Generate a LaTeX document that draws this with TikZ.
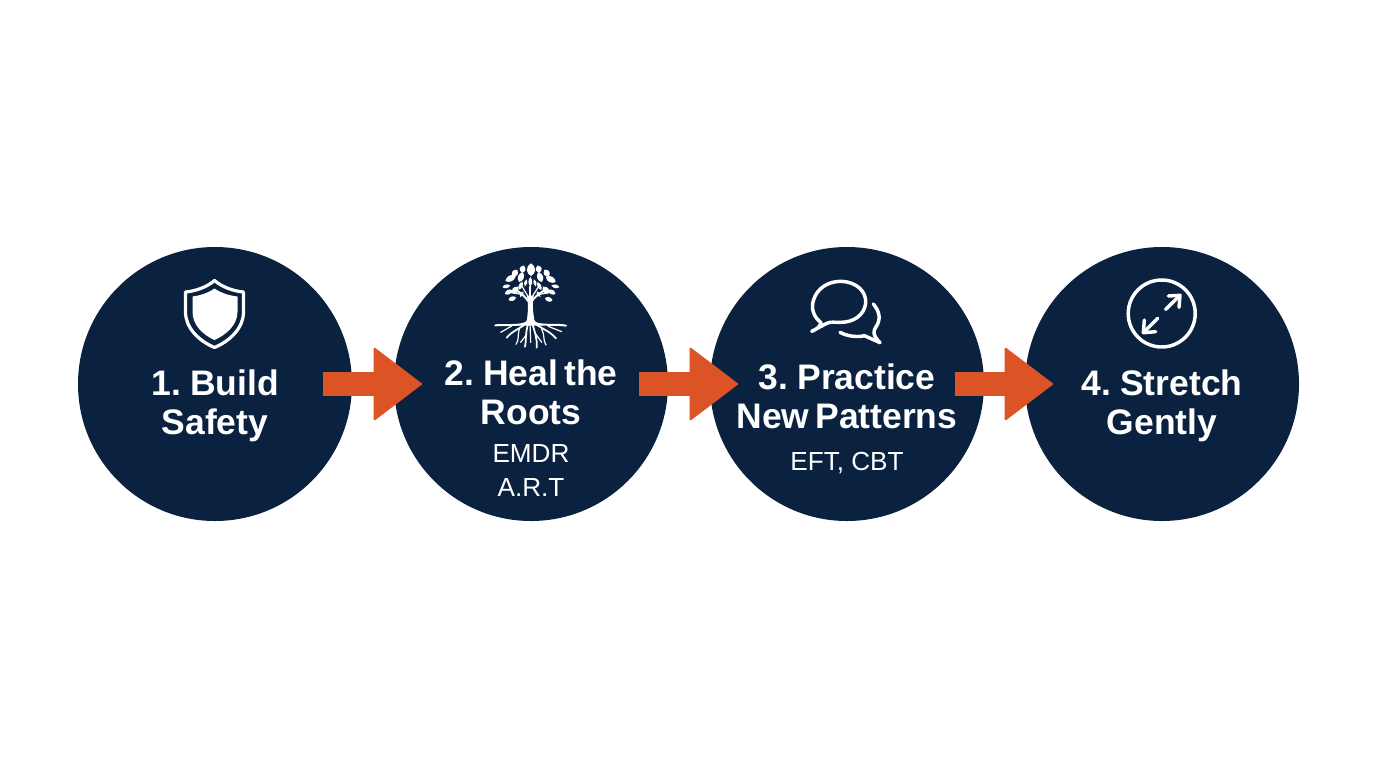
\documentclass[tikz,border=0pt]{standalone}
\usepackage{fontspec}
\setmainfont[WordSpace=0.6]{Liberation Sans}
\newfontfamily\subfont{Liberation Sans}
\usetikzlibrary{arrows.meta}
\definecolor{navy}{HTML}{0A2240}
\definecolor{rust}{HTML}{DC5425}
\tikzset{
  x=0.75pt,y=-0.75pt,
  stage/.style={circle,fill=navy,draw=none,minimum size=205.5pt,inner sep=0pt},
  blockarrow/.style={draw=rust,line width=18pt,-{Triangle[length=36.75pt,width=55.5pt,line width=1.5pt,round]},rust,shorten <=81pt,shorten >=81.75pt},
  title/.style={text=white,align=center,anchor=base,inner sep=0pt,font=\fontsize{26.6}{29.6}\selectfont\bfseries},
  sub/.style={text=white,align=center,anchor=base,inner sep=0pt,font=\subfont\fontsize{19.6}{25.5}\selectfont},
  iconline/.style={draw=white,line width=2.6pt,line cap=round,line join=round,fill=none},
  root/.style={draw=white,line cap=round,line join=round},
}
\begin{document}
\begin{tikzpicture}
\useasboundingbox (0,0) rectangle (1376,768);
\fill[white] (0,0) rectangle (1376,768);
% stages
\node[stage] (c1) at (215,384) {};
\node[stage] (c2) at (531,384) {};
\node[stage] (c3) at (847,384) {};
\node[stage] (c4) at (1162,384) {};
% connectors
\draw[blockarrow] (c1.center) -- (c2.center);
\draw[blockarrow] (c2.center) -- (c3.center);
\draw[blockarrow] (c3.center) -- (c4.center);
% labels
\node[title] (t1) at (215,434.5) {1. Build\\Safety};
\node[title] (t2) at (531,424.5) {2. Heal the\\Roots};
\node[sub] (s2) at (531,496) {EMDR\\A.R.T};
\node[title] (t3) at (847,428.5) {3. Practice\\New Patterns};
\node[sub] (s3) at (847,470) {EFT, CBT};
\node[title] (t4) at (1162,434.5) {4. Stretch\\Gently};
% shield icon
\draw[iconline,line width=2.4pt,miter limit=4]
  (214.5,280.5) .. controls (222,287) and (233,291) .. (243.5,292)
  -- (243.5,312) .. controls (243.5,328) and (230,341) .. (214.5,347.5)
  .. controls (199,341) and (185.5,328) .. (185.5,312) -- (185.5,292)
  .. controls (196,291) and (207,287) .. (214.5,280.5) -- cycle;
\fill[white]
  (214.5,288.5) .. controls (221,293) and (229,295.5) .. (237.5,296.5)
  -- (237.5,312) .. controls (237.5,325) and (226,335) .. (214.5,340)
  .. controls (203,335) and (192.5,325) .. (192.5,312) -- (192.5,296.5)
  .. controls (200,295.5) and (208,293) .. (214.5,288.5) -- cycle;
% tree icon
\begin{scope}[shift={(480,255)},x=0.25pt,y=-0.25pt]
  \fill[white] (141,195) .. controls (144,165) and (146,145) .. (141,122)
    -- (161,122) .. controls (157,145) and (158,165) .. (163,195)
    .. controls (166,203) and (178,207) .. (190,212) -- (112,212)
    .. controls (125,207) and (138,203) .. (141,195) -- cycle;
  \foreach \x/\y/\a/\b/\r in {
    153/44/11/19/0, 128/42/8/11/-15, 176/42/8/11/15, 105/54/8/12/-35, 200/54/8/12/35,
    123/66/8/16/-20, 180/66/8/16/20, 151/80/5/14/0, 137/84/4/11/-15, 165/84/4/11/15,
    92/70/8/18/-62, 212/73/8/17/62, 79/94/5/12/-78, 226/94/5/12/78,
    106/105/8/13/-40, 197/105/8/13/40, 122/92/5/13/-25, 178/93/5/13/25,
    86/111/6/13/-62, 215/111/6/13/62, 97/131/6/12/-72, 206/133/6/12/72,
    125/118/4/10/-30, 176/118/4/10/30}
    \fill[white,shift={(\x,\y)},rotate=\r]
      (0,-\b) .. controls (1.7*\a,-0.35*\b) and (1.3*\a,0.6*\b) .. (0,\b)
      .. controls (-1.3*\a,0.6*\b) and (-1.7*\a,-0.35*\b) .. (0,-\b) -- cycle;
  \draw[root,line width=1.3pt] (150,130) -- (150,95);
  \draw[root,line width=1.5pt] (146,140) .. controls (135,125) and (125,115) .. (108,105);
  \draw[root,line width=1.5pt] (154,140) .. controls (165,125) and (178,115) .. (195,105);
  \draw[root,line width=0.9pt] (146,128) -- (125,92);
  \draw[root,line width=0.9pt] (155,128) -- (176,94);
  \draw[root,line width=0.9pt] (125,118) -- (88,112);
  \draw[root,line width=0.9pt] (178,118) -- (212,112);
  \draw[root,line width=1.5pt] (140,203) .. controls (115,214) and (80,208) .. (46,211);
  \draw[root,line width=1.5pt] (162,203) .. controls (190,214) and (225,206) .. (258,212);
  \draw[root,line width=1.3pt] (138,205) .. controls (115,225) and (100,225) .. (80,248);
  \draw[root,line width=1.3pt] (165,205) .. controls (190,225) and (205,225) .. (228,250);
  \draw[root,line width=1.3pt] (145,205) .. controls (135,235) and (140,250) .. (135,275);
  \draw[root,line width=1.3pt] (157,205) .. controls (165,235) and (172,250) .. (170,278);
  \draw[root,line width=0.9pt] (118,222) .. controls (112,240) and (118,255) .. (108,268);
  \draw[root,line width=0.9pt] (185,222) .. controls (195,240) and (188,255) .. (198,270);
  \draw[root,line width=0.9pt] (150,205) -- (152,262);
  \draw[root,line width=0.9pt] (95,213) -- (62,232);
  \draw[root,line width=0.9pt] (205,214) -- (245,230);
  \draw[root,line width=0.9pt] (140,238) -- (122,262);
  \draw[root,line width=0.9pt] (168,238) -- (185,262);
\end{scope}
% speech bubbles icon
\begin{scope}[shift={(795,270)},x=0.25pt,y=-0.25pt]
  \draw[iconline] (78,158) .. controls (55,140) and (48,115) .. (55,92)
    .. controls (65,55) and (100,33) .. (140,34)
    .. controls (185,36) and (215,65) .. (212,100)
    .. controls (208,135) and (175,158) .. (135,157)
    .. controls (120,157) and (105,155) .. (95,160)
    -- (50,184) .. controls (65,178) and (75,170) .. (78,158) -- cycle;
  \draw[iconline] (235,102) .. controls (255,125) and (258,150) .. (242,172)
    .. controls (235,182) and (232,195) .. (255,218)
    -- (208,197) .. controls (185,203) and (155,198) .. (135,187);
\end{scope}
% expand icon
\draw[iconline] (1161.7,313.5) circle [radius=33.5];
\begin{scope}[shift={(1115,270)},x=0.25pt,y=-0.25pt]
  \draw[iconline] (152,118) -- (195,76);
  \draw[iconline] (160,78) -- (195,76) -- (192,112);
  \draw[iconline] (128,145) -- (85,188);
  \draw[iconline] (88,150) -- (85,188) -- (122,185);
\end{scope}
\end{tikzpicture}
\end{document}
